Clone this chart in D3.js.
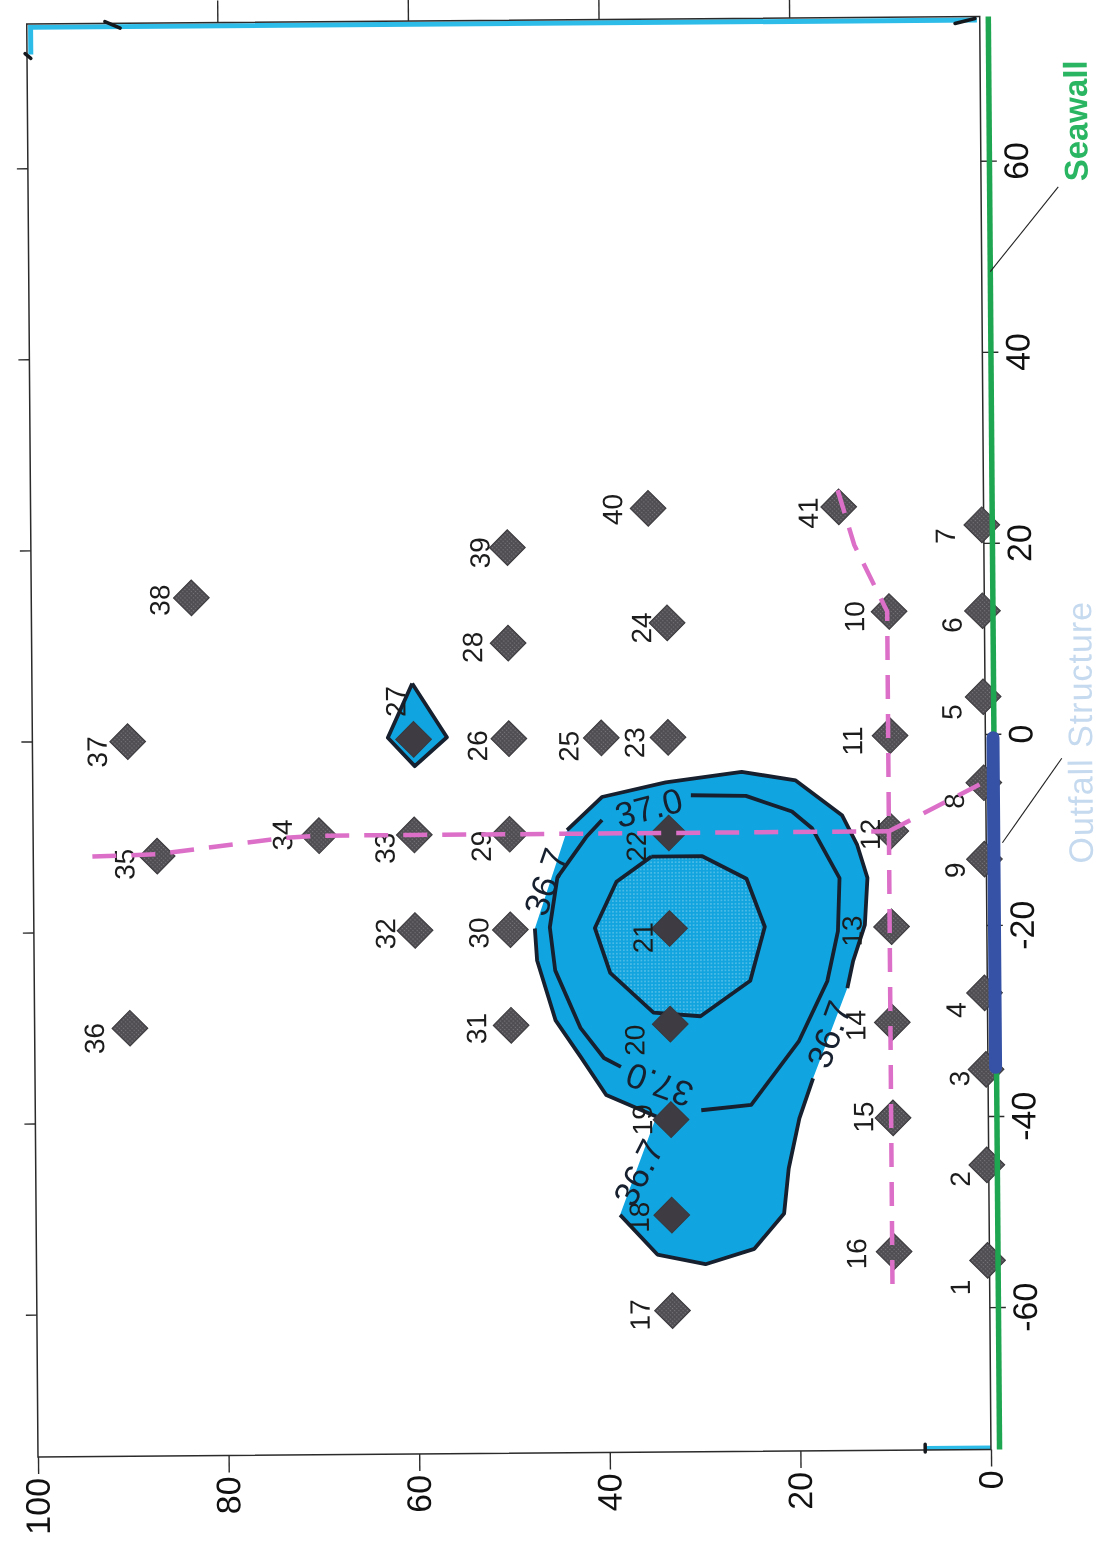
<!DOCTYPE html>
<html>
<head>
<meta charset="utf-8">
<script src="https://cdnjs.cloudflare.com/ajax/libs/d3/7.8.5/d3.min.js"></script>
<style>
  html, body { margin: 0; padding: 0; background: #fff; }
  svg { display: block; filter: blur(0.35px); }
  text { font-family: "Liberation Sans", Arial, sans-serif; }
</style>
</head>
<body>
<div id="container"></div>
<script>
// station numbers run 1..41 (alongshore m, offshore m)
const stationX = [-55, -45, -35, -27, 4, 13, 22, -5, -13, 13, 0, -10, -20, -30, -40, -54, -60, -50, -40, -30, -20, -10, 0, 12, 0, 0, 0, 10, -10, -20, -30, -20, -10, -10, -12, -30, 0, 15, 20, 24, 24];
const stationY = [0.2, 0.2, 0.2, 0.3, 0.2, 0.2, 0.2, 0.2, 0.2, 10, 10, 10, 10, 10, 10, 10, 33.3, 33.3, 33.3, 33.3, 33.3, 33.3, 33.3, 33.3, 40.3, 50, 60, 50, 50, 50, 50, 60, 60, 70, 87, 90, 90, 83.2, 50, 35.2, 15.2];

const xTicks = [-60, -40, -20, 0, 20, 40, 60];
const yTicks = [0, 20, 40, 60, 80, 100];
const yTicksTop = [20, 40, 60, 80];

// 36.7 contour, three drawn pieces with gaps at the labels
const c367a = [[-9.63, 43.97], [-6.18, 40.29], [-4.71, 33.58], [-3.66, 25.6], [-4.61, 19.94], [-8.28, 15.11], [-11.41, 13.54], [-14.86, 12.49], [-19.78, 12.8], [-23.55, 14.06], [-26.38, 14.69]];
const c367b = [[-35.8, 18.36], [-39.99, 19.83], [-45.22, 20.99], [-49.93, 21.51], [-53.6, 24.66], [-55.17, 29.8], [-54.12, 34.84], [-49.93, 38.72]];
const c367c = [[-39.67, 34.84], [-37.37, 40.08], [-33.39, 42.71], [-29.52, 45.33], [-23.24, 47.22], [-19.89, 47.43]];

// 37.0 contour
const c370a = [[-6.07, 30.95], [-6.18, 25.18], [-7.85, 20.36], [-9.63, 18.26], [-14.86, 15.42], [-20.41, 15.63], [-25.65, 16.79], [-31.93, 19.83], [-38.52, 24.87], [-39.05, 30.12]];
const c370b = [[-34.44, 38.51], [-33.5, 40.29], [-30.36, 42.71], [-24.29, 45.33], [-19.78, 45.86], [-14.55, 45.02], [-10.36, 41.97], [-8.58, 40.29]];

// innermost closed contour and the small patch round station 27
const cInner = [[-12.46, 35.15], [-12.46, 29.8], [-14.86, 25.18], [-19.89, 23.3], [-25.54, 24.87], [-29.21, 30.12], [-28.79, 35.05], [-24.6, 39.56], [-19.89, 41.13], [-15.07, 38.83]];
const cPatch = [[5.85, 60.1], [0.2, 56.5], [-2.8, 59.9], [0.2, 62.7]];

// dashed transects
const transectA = [[-12, 93.8], [-11.8, 87.1], [-10.2, 73.6], [-10, 70], [-10, 60], [-10, 50], [-10, 33.3], [-10, 10.2]];
const transectB = [[-10, 10.2], [-5, 0.3]];
const transectC = [[-57.4, 10.2], [-40, 10.2], [-20, 10.2], [0, 10.2], [13, 10.2], [20, 13.6], [26.1, 15.4]];

const seawall = [[75.2, -0.9], [-74.8, -0.9]];
const outfall = [[-0.3, -0.8], [-34.8, -0.8]];
const seawallLeader = [[57.3, -8.1], [48.5, -0.9]];
const outfallLeader = [[-2.5, -8], [-11.3, -1.7]];

// cyan strips left along the frame by the scan, and the pen blips at their ends
const stripTop = [[72, 99.6], [74.85, 99.6], [74.85, 0.3]];
const stripBottom = [[-74.6, 6.8], [-74.6, 0]];
const blips = [
  [[72.1, 100.2], [71.6, 99.6]],
  [[75.4, 91.8], [74.7, 90.2]],
  [[74.5, 2.6], [75, 0.5]],
  [[-74.2, 6.9], [-75, 6.9]]
];

const contourLabels = ["36.7", "37.0", "36.7", "37.0", "36.7"];
const contourLabelX = [-15, -7.3, -31.2, -36.4, -45.5];
const contourLabelY = [46.3, 35.4, 16.7, 34.5, 36.8];

// ---- layout ----
const w = 1102;
const h = 1543;
const plotW = 1433;
const plotH = 953;
const tilt = -90.45;

// page offsets [right, down] of each station number from its diamond
const labelShift = [[-28, 27], [-27, 14], [-27, 9], [-29, 17], [-32, 15], [-31, 14], [-37, 11], [-30, 18], [-30, 11], [-35, 5], [-38, 5], [-21, 3], [-40, 4], [-37, 3], [-30, -1], [-38, 2], [-33, 4], [-33, 2], [-29, 0], [-36, 16], [-27, 9], [-33, 13], [-34, 5], [-26, 5], [-33, 8], [-32, 7], [-18, -38], [-36, 4], [-29, 12], [-32, 3], [-35, 3], [-30, 3], [-30, 13], [-37, -1], [-33, 8], [-36, 10], [-31, 10], [-32, 2], [-28, 5], [-36, 1], [-31, 6]];
const contourLabelAngle = [-71, -15, -70, 200, -63];
const darkStations = [18, 19, 20, 21, 22, 27];

const x = d3.scaleLinear().domain([-74.8, 75.2]).range([0, plotW]);
const y = d3.scaleLinear().domain([0, 100]).range([plotH, 0]);
const line = d3.line().x((d) => x(d[0])).y((d) => y(d[1]));

const svg = d3.select("#container").append("svg").attr("width", w).attr("height", h);

const defs = svg.append("defs");
const addStipple = (id, size, base, dot, r) => {
  const p = defs.append("pattern")
    .attr("id", id)
    .attr("patternUnits", "userSpaceOnUse")
    .attr("width", size)
    .attr("height", size);
  p.append("rect").attr("width", size).attr("height", size).attr("fill", base);
  p.append("circle").attr("cx", size / 2).attr("cy", size / 2).attr("r", r).attr("fill", dot);
};
addStipple("stipple", 3.5, "#12a4de", "#62c4ea", 0.8);
addStipple("greyDot", 3, "#4f4d51", "#7a787c", 0.7);

const g = svg.append("g").attr("transform", `translate(38,1457) rotate(${tilt})`);

// plume fills
const plume = c367a.concat(c367b, c367c);
g.append("path").attr("d", line(plume) + "Z").attr("fill", "#10a5e0");
g.append("path").attr("d", line(cPatch) + "Z").attr("fill", "#10a5e0");
g.append("path").attr("d", line(cInner) + "Z").attr("fill", "url(#stipple)");

// frame and strips
g.append("path").attr("d", line(stripTop)).attr("fill", "none").attr("stroke", "#2dbbe8").attr("stroke-width", 5);
g.append("path").attr("d", line(stripBottom)).attr("fill", "none").attr("stroke", "#2dbbe8").attr("stroke-width", 4);
g.append("rect")
  .attr("width", plotW)
  .attr("height", plotH)
  .attr("fill", "none")
  .attr("stroke", "#2b2b2b")
  .attr("stroke-width", 1.5);

g.append("g")
  .selectAll("path")
  .data(blips)
  .enter()
  .append("path")
  .attr("d", line)
  .attr("stroke", "#15181c")
  .attr("stroke-width", 3.5)
  .attr("stroke-linecap", "round");

// axes
const axisStyle = (sel) => {
  sel.select(".domain").remove();
  sel.selectAll(".tick line").attr("stroke", "#2b2b2b").attr("stroke-width", 1.4);
  sel.selectAll("text").attr("fill", "#111").style("font-family", '"Liberation Sans", Arial, sans-serif').style("font-size", "34px");
};

g.append("g")
  .attr("transform", `translate(0,${plotH})`)
  .call(d3.axisBottom(x).tickValues(xTicks).tickSize(16).tickPadding(7).tickFormat((d) => String(d)))
  .call(axisStyle);

g.append("g")
  .call(d3.axisLeft(y).tickValues(yTicks).tickSize(17).tickPadding(4).tickFormat((d) => String(d)))
  .call(axisStyle);

g.append("g")
  .call(d3.axisTop(x).tickValues(xTicks).tickSize(11).tickFormat(""))
  .call(axisStyle);

g.append("g")
  .attr("transform", `translate(${plotW},0)`)
  .call(d3.axisRight(y).tickValues(yTicksTop).tickSize(22).tickFormat(""))
  .call(axisStyle);

// contour lines
const contourLines = [c367a, c367b, c367c, c370a, c370b, cInner.concat([cInner[0]]), cPatch.concat([cPatch[0]])];
g.append("g")
  .selectAll("path")
  .data(contourLines)
  .enter()
  .append("path")
  .attr("d", line)
  .attr("fill", "none")
  .attr("stroke", "#17202e")
  .attr("stroke-width", 3.8)
  .attr("stroke-linejoin", "round");

// stations
const stations = stationX.map((d, i) => ({ id: i + 1, x: d, y: stationY[i] }));
const squareSymbol = d3.symbol().type(d3.symbolSquare).size(640);

g.append("g")
  .selectAll("path")
  .data(stations)
  .enter()
  .append("path")
  .attr("d", squareSymbol)
  .attr("transform", (d) => `translate(${x(d.x)},${y(d.y)}) rotate(45)`)
  .attr("fill", (d) => (darkStations.includes(d.id) ? "#3e3c42" : "url(#greyDot)"))
  .attr("stroke", "#3a383c")
  .attr("stroke-width", 1);

g.append("g")
  .selectAll("text")
  .data(stations)
  .enter()
  .append("text")
  .attr("transform", (d) => {
    const s = labelShift[d.id - 1];
    return `translate(${x(d.x) - s[1]},${y(d.y) + s[0]})`;
  })
  .attr("text-anchor", "middle")
  .attr("dy", "0.36em")
  .attr("font-size", 28)
  .attr("fill", "#1c1c1c")
  .text((d) => d.id);

// contour value labels
g.append("g")
  .selectAll("text")
  .data(contourLabels)
  .enter()
  .append("text")
  .attr("transform", (d, i) => `translate(${x(contourLabelX[i])},${y(contourLabelY[i])}) rotate(${contourLabelAngle[i] - tilt})`)
  .attr("text-anchor", "middle")
  .attr("dy", "0.36em")
  .attr("font-size", 35)
  .attr("fill", "#17202e")
  .text((d) => d);

// transects
g.append("g")
  .selectAll("path")
  .data([transectA, transectB, transectC])
  .enter()
  .append("path")
  .attr("d", line)
  .attr("fill", "none")
  .attr("stroke", "#dc70c8")
  .attr("stroke-width", 4.5)
  .attr("stroke-dasharray", "24 15");

// shoreline structures
g.append("path").attr("d", line(seawall)).attr("fill", "none").attr("stroke", "#1fa650").attr("stroke-width", 5.5);
g.append("path").attr("d", line(outfall)).attr("fill", "none").attr("stroke", "#3552a6").attr("stroke-width", 13).attr("stroke-linecap", "round");
g.append("path").attr("d", line(seawallLeader)).attr("stroke", "#222").attr("stroke-width", 1.1);
g.append("path").attr("d", line(outfallLeader)).attr("stroke", "#222").attr("stroke-width", 1.1);

g.append("text")
  .attr("x", x(64.2))
  .attr("y", y(-11.2))
  .attr("text-anchor", "middle")
  .attr("font-size", 33)
  .attr("font-weight", "bold")
  .attr("fill", "#2ab562")
  .text("Seawall");

g.append("text")
  .attr("x", x(0.2))
  .attr("y", y(-11.2))
  .attr("text-anchor", "middle")
  .attr("font-size", 34)
  .attr("letter-spacing", 1)
  .attr("fill", "#c6daef")
  .text("Outfall Structure");
</script>
</body>
</html>
